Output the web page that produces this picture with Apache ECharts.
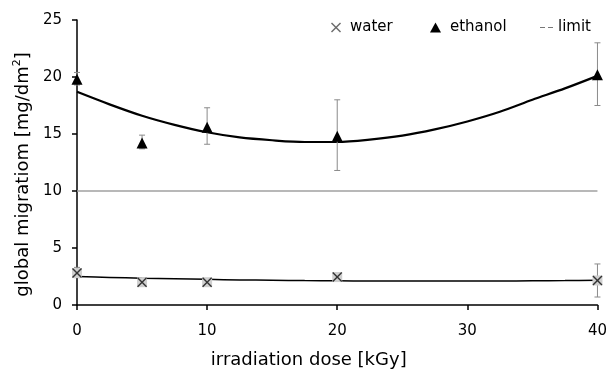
<!DOCTYPE html>
<html>
<head>
<meta charset="utf-8">
<script src="https://cdn.jsdelivr.net/npm/echarts@6/dist/echarts.min.js"></script>
<style>
html,body{margin:0;padding:0;background:#fff;}
#chart{width:610px;height:374px;}
</style>
</head>
<body>
<div id="chart"></div>
<script>
// ---- data ----
const doses = [0, 5, 10, 20, 40];
const waterValues = [2.8, 2.0, 2.0, 2.45, 2.15];
const waterLow = [2.4, null, null, 2.1, 0.7];
const waterHigh = [3.3, null, null, 2.8, 3.6];
const ethanolValues = [19.8, 14.2, 15.6, 14.8, 20.2];
const ethanolLow = [19.3, 13.7, 14.1, 11.8, 17.5];
const ethanolHigh = [20.4, 14.9, 17.3, 18.0, 23.0];
const fitDoses = [0, 2.5, 5, 7.5, 10, 12.5, 15, 17.5, 20, 22.5, 25, 27.5, 30, 32.5, 35, 37.5, 40];
const ethanolFit = [18.7, 17.6, 16.6, 15.8, 15.15, 14.7, 14.45, 14.3, 14.3, 14.5, 14.85, 15.4, 16.1, 16.95, 18.0, 19.0, 20.1];
const waterFit = [2.5, 2.42, 2.35, 2.3, 2.25, 2.2, 2.17, 2.14, 2.12, 2.11, 2.1, 2.1, 2.1, 2.11, 2.12, 2.14, 2.17];
const limitDoses = [0, 40];
const limitValues = [10, 10];
const xTicks = [0, 10, 20, 30, 40];
const yTicks = [0, 5, 10, 15, 20, 25];

const FONT = 'DejaVu Sans';
const pairs = (xs, ys) => xs.map((x, i) => [x, ys[i]]);
const errData = (lo, hi) => doses.map((d, i) => [d, lo[i], hi[i]]).filter(r => r[1] != null);
const X_PATH = 'path://M1,0L5,4L9,0L10,1L6,5L10,9L9,10L5,6L1,10L0,9L4,5L0,1Z';

function errorBar(params, api) {
  const x = api.value(0);
  const lo = api.coord([x, api.value(1)]);
  const hi = api.coord([x, api.value(2)]);
  const cap = 3;
  const style = { stroke: '#8a8a8a', lineWidth: 1 };
  return {
    type: 'group',
    children: [
      { type: 'line', shape: { x1: lo[0], y1: lo[1], x2: hi[0], y2: hi[1] }, style },
      { type: 'line', shape: { x1: lo[0] - cap, y1: lo[1], x2: lo[0] + cap, y2: lo[1] }, style },
      { type: 'line', shape: { x1: hi[0] - cap, y1: hi[1], x2: hi[0] + cap, y2: hi[1] }, style }
    ]
  };
}

const chart = echarts.init(document.getElementById('chart'), null, { renderer: 'canvas' });
chart.setOption({
  animation: false,
  backgroundColor: '#fff',
  textStyle: { fontFamily: FONT },
  grid: { left: 77, right: 10, top: 20, bottom: 65, containLabel: false },
  legend: [
    { left: 326, top: 15, itemWidth: 10, itemHeight: 10, data: [{ name: 'water', icon: X_PATH, itemStyle: { color: '#6a6a6a' } }],
      textStyle: { fontFamily: FONT, fontSize: 15, color: '#000', padding: [0, 0, 0, 4] } },
    { left: 425, top: 15, itemWidth: 11, itemHeight: 10, data: [{ name: 'ethanol', icon: 'triangle' }],
      textStyle: { fontFamily: FONT, fontSize: 15, color: '#000', padding: [0, 0, 0, 4] } },
    { left: 535, top: 15, itemWidth: 13, itemHeight: 10,
      data: [{ name: 'limit', icon: 'path://M0,0h5v1.2h-5zM8,0h5v1.2h-5z', itemStyle: { color: '#777' } }],
      textStyle: { fontFamily: FONT, fontSize: 15, color: '#000' } }
  ],
  xAxis: {
    type: 'value', min: xTicks[0], max: xTicks[xTicks.length - 1], interval: 10,
    name: 'irradiation dose [kGy]', nameLocation: 'middle', nameGap: 46,
    nameTextStyle: { fontFamily: FONT, fontSize: 18, color: '#000', padding: [0, 57, 0, 0] },
    axisLine: { lineStyle: { color: '#000', width: 1.5 } },
    axisTick: { show: true, inside: false, length: 5, lineStyle: { color: '#000', width: 1.5 } },
    axisLabel: { fontFamily: FONT, fontSize: 15, color: '#000', margin: 19 },
    splitLine: { show: false }
  },
  yAxis: {
    type: 'value', min: yTicks[0], max: yTicks[yTicks.length - 1], interval: 5,
    name: '{a|global migratiom [mg/dm}{s|2}{a|]}', nameLocation: 'middle', nameGap: 38,
    nameTextStyle: {
      fontFamily: FONT, fontSize: 18, color: '#000', padding: [0, 24, 0, 0],
      rich: {
        a: { fontFamily: FONT, fontSize: 18, color: '#000' },
        s: { fontFamily: FONT, fontSize: 11, color: '#000', padding: [0, 0, 12, 0] }
      }
    },
    axisLine: { show: true, lineStyle: { color: '#000', width: 1.5 } },
    axisTick: { show: true, inside: false, length: 5, lineStyle: { color: '#000', width: 1.5 } },
    axisLabel: { fontFamily: FONT, fontSize: 15, color: '#000', margin: 15 },
    splitLine: { show: false }
  },
  series: [
    { name: 'limit', type: 'line', data: pairs(limitDoses, limitValues), symbol: 'none',
      lineStyle: { color: '#a0a0a0', width: 1.5 }, itemStyle: { color: '#777' }, z: 1 },
    { name: 'waterFit', type: 'line', data: pairs(fitDoses, waterFit), symbol: 'none', smooth: 0.3,
      lineStyle: { color: '#000', width: 1.5 }, z: 2 },
    { name: 'ethanolFit', type: 'line', data: pairs(fitDoses, ethanolFit), symbol: 'none', smooth: 0.3,
      lineStyle: { color: '#000', width: 2.2 }, z: 2 },
    { name: 'waterErr', type: 'custom', renderItem: errorBar, data: errData(waterLow, waterHigh), z: 3 },
    { name: 'ethanolErr', type: 'custom', renderItem: errorBar, data: errData(ethanolLow, ethanolHigh), z: 3 },
    { name: 'waterBg', type: 'scatter', data: pairs(doses, waterValues), symbol: 'rect', symbolSize: 10,
      itemStyle: { color: '#cfcfcf', opacity: 1 }, z: 4 },
    { name: 'water', type: 'scatter', data: pairs(doses, waterValues), symbol: X_PATH, symbolSize: 10,
      itemStyle: { color: '#333', opacity: 1 }, z: 5 },
    { name: 'ethanol', type: 'scatter', data: pairs(doses, ethanolValues), symbol: 'triangle', symbolSize: [11, 11],
      itemStyle: { color: '#000', opacity: 1 }, z: 5 }
  ]
});
</script>
</body>
</html>
